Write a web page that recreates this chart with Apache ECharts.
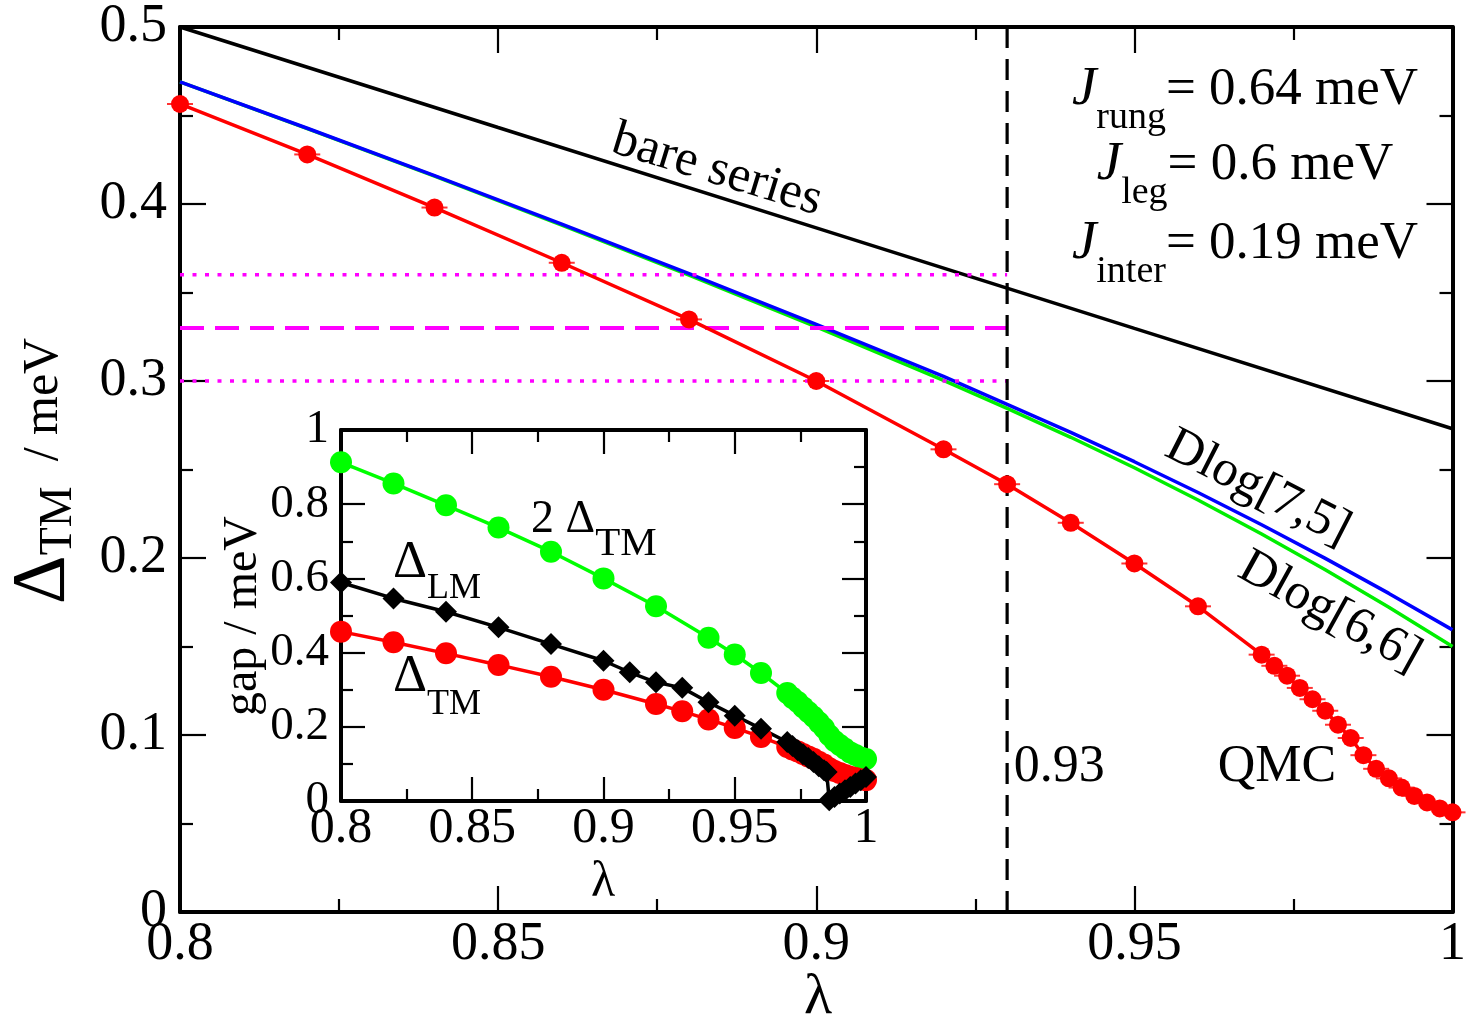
<!DOCTYPE html>
<html><head><meta charset="utf-8">
<script src="https://cdn.jsdelivr.net/npm/echarts@6/dist/echarts.min.js"></script>
<style>html,body{margin:0;padding:0;background:#fff}#c{width:1469px;height:1023px}</style>
</head><body><div id="c"></div>
<script>
const FONT = 'Liberation Serif';

// ---------- main panel data ----------
const mainXTicks = [0.8, 0.85, 0.9, 0.95, 1.0];
const mainYTicks = [0, 0.1, 0.2, 0.3, 0.4, 0.5];

// QMC  Delta_TM (red)
const qmcLambda = [0.80,0.82,0.84,0.86,0.88,0.90,0.92,0.93,0.94,0.95,0.96,
  0.970,0.972,0.974,0.976,0.978,0.980,0.982,0.984,0.986,0.988,0.990,0.992,0.994,0.996,0.998,1.000];
const qmcGap = [0.4565,0.4280,0.3980,0.3668,0.3348,0.3000,0.2614,0.2417,0.2199,0.1969,0.1727,
  0.1454,0.1391,0.1335,0.1266,0.1202,0.1137,0.1058,0.0983,0.0886,0.0809,0.0755,0.0703,0.0656,0.0619,0.0585,0.0563];

// bare series (black)
const bareLambda = [0.80, 0.85, 0.90, 0.95, 1.00];
const bareGap = [0.500, 0.4432, 0.3865, 0.3297, 0.2730];

// Dlog approximants
const dlogLambda = [0.80,0.82,0.84,0.86,0.88,0.90,0.92,0.93,0.94,0.95,0.96,0.97,0.98,0.99,1.00];
const dlog75 = [0.469,0.4428,0.4160,0.3886,0.3606,0.3320,0.3026,0.2868,0.2710,0.2544,0.2370,0.2188,0.1998,0.1800,0.1594];
const dlog66 = [0.469,0.4426,0.4157,0.3881,0.3598,0.3306,0.3003,0.2845,0.2682,0.2510,0.2328,0.2136,0.1934,0.1722,0.1500];

// reference levels
const refDotted = [0.30, 0.36];
const refDashed = [0.33];
const lambdaMark = 0.93;

// ---------- inset data ----------
const insetXTicks = [0.8, 0.85, 0.9, 0.95, 1.0];
const insetYTicks = [0, 0.2, 0.4, 0.6, 0.8, 1.0];

const twoTmLambda = [0.80,0.82,0.84,0.86,0.88,0.90,0.92,0.94,0.95,0.96,
  0.970,0.972,0.974,0.976,0.978,0.980,0.982,0.984,0.986,0.988,0.990,0.992,0.994,0.996,0.998,1.000];
const twoTmGap = [0.913,0.856,0.797,0.737,0.672,0.600,0.525,0.440,0.395,0.345,
  0.291,0.278,0.267,0.253,0.240,0.227,0.212,0.197,0.177,0.162,0.151,0.141,0.131,0.124,0.117,0.113];

const lmLambda = [0.80,0.82,0.84,0.86,0.88,0.90,0.91,0.92,0.93,0.94,0.95,0.96,
  0.970,0.972,0.974,0.976,0.978,0.980,0.982,0.984,0.985,0.986,0.988,0.990,0.992,0.994,0.996,0.998,1.000];
const lmGap = [0.589,0.546,0.510,0.468,0.423,0.378,0.347,0.320,0.305,0.266,0.230,0.195,
  0.159,0.148,0.137,0.126,0.116,0.105,0.094,0.083,0.078,0.002,0.011,0.020,0.029,0.038,0.047,0.056,0.065];

// ---------- helpers ----------
const zip = (xs, ys) => xs.map((x, i) => [x, ys[i]]);
const step = t => +(t[1] - t[0]).toFixed(6);

function valAxis(ticks, o) {
  return Object.assign({
    type: 'value', min: ticks[0], max: ticks[ticks.length - 1], interval: step(ticks),
    axisLine: { show: true, onZero: false, lineStyle: { color: '#000', width: 4 } },
    axisTick: { show: true, inside: true, length: 26, lineStyle: { color: '#000', width: 2.2 } },
    minorTick: { show: true, splitNumber: 2, length: 13, lineStyle: { color: '#000', width: 2.2 } },
    splitLine: { show: false },
    axisLabel: { show: true, color: '#000', fontFamily: FONT, fontSize: 54, margin: 8 }
  }, o);
}
function hideLabels(a) { a.axisLabel = Object.assign({}, a.axisLabel, { show: false }); return a; }
const subPad = (p) => [p, 0, 0, 0];

const chart = echarts.init(document.getElementById('c'), null, { renderer: 'canvas' });

const mainX = valAxis(mainXTicks, { gridIndex: 0, position: 'bottom' });
mainX.axisLabel.margin = 6;
const mainXTop = hideLabels(valAxis(mainXTicks, { gridIndex: 0, position: 'top' }));
const mainY = valAxis(mainYTicks, { gridIndex: 0, position: 'left' });
mainY.axisLabel.margin = 13;
const mainYRight = hideLabels(valAxis(mainYTicks, { gridIndex: 0, position: 'right' }));

const insX = valAxis(insetXTicks, { gridIndex: 1, position: 'bottom' });
insX.axisLabel.fontSize = 50; insX.axisLabel.margin = 3;
insX.axisTick.length = 24; insX.minorTick.length = 12;
const insXTop = hideLabels(valAxis(insetXTicks, { gridIndex: 1, position: 'top' }));
insXTop.axisTick.length = 24; insXTop.minorTick.length = 12;
const insY = valAxis(insetYTicks, { gridIndex: 1, position: 'left' });
insY.axisLabel.fontSize = 47; insY.axisLabel.margin = 12;
insY.axisTick.length = 24; insY.minorTick.length = 12;
const insYRight = hideLabels(valAxis(insetYTicks, { gridIndex: 1, position: 'right' }));
insYRight.axisTick.length = 24; insYRight.minorTick.length = 12;

function lineSeries(xi, yi, data, color, o) {
  return Object.assign({
    type: 'line', xAxisIndex: xi, yAxisIndex: yi, data: data, clip: false,
    showSymbol: false, symbol: 'none', smooth: false, silent: true,
    lineStyle: { color: color, width: 3.5 }, itemStyle: { color: color }
  }, o);
}

const series = [
  lineSeries(0, 0, zip(bareLambda, bareGap), '#000'),
  lineSeries(0, 0, zip(dlogLambda, dlog66), '#00ee00'),
  lineSeries(0, 0, zip(dlogLambda, dlog75), '#0000ff'),
];
refDotted.forEach(v => series.push(lineSeries(0, 0, [[mainXTicks[0], v], [lambdaMark, v]], '#ff00ff',
  { lineStyle: { color: '#ff00ff', width: 3.5, type: [4, 8.5] } })));
refDashed.forEach(v => series.push(lineSeries(0, 0, [[mainXTicks[0], v], [lambdaMark, v]], '#ff00ff',
  { lineStyle: { color: '#ff00ff', width: 4, type: [24, 11] } })));
series.push(lineSeries(0, 0, [[lambdaMark, mainYTicks[0]], [lambdaMark, mainYTicks[mainYTicks.length - 1]]], '#000',
  { lineStyle: { color: '#000', width: 3.2, type: [21, 11] } }));
// QMC error-bar caps + points
series.push({ type: 'scatter', xAxisIndex: 0, yAxisIndex: 0, data: zip(qmcLambda, qmcGap), clip: false, silent: true,
  symbol: 'rect', symbolSize: [26, 2], itemStyle: { color: '#ff0000' } });
series.push(lineSeries(0, 0, zip(qmcLambda, qmcGap), '#ff0000',
  { showSymbol: true, symbol: 'circle', symbolSize: 18, itemStyle: { color: '#ff0000', borderWidth: 0 } }));

// inset
series.push(lineSeries(2, 2, zip(twoTmLambda, twoTmGap), '#00ff00',
  { showSymbol: true, symbol: 'circle', symbolSize: 22, itemStyle: { color: '#00ff00', borderWidth: 0 } }));
series.push(lineSeries(2, 2, zip(qmcLambda, qmcGap), '#ff0000',
  { showSymbol: true, symbol: 'circle', symbolSize: 22, itemStyle: { color: '#ff0000', borderWidth: 0 } }));
series.push(lineSeries(2, 2, zip(lmLambda, lmGap), '#000',
  { showSymbol: true, symbol: 'diamond', symbolSize: 22, itemStyle: { color: '#000', borderWidth: 0 } }));

const option = {
  backgroundColor: '#fff',
  animation: false,
  grid: [
    { left: 180, right: 14, top: 20, bottom: 111, containLabel: false },
    { left: 341, right: 603, top: 430, bottom: 222, containLabel: false, show: true, backgroundColor: '#fff', borderWidth: 0 }
  ],
  xAxis: [mainX, mainXTop, insX, insXTop],
  yAxis: [mainY, mainYRight, insY, insYRight],
  series: series
};
chart.setOption(option);

// ---------- text annotations (placed in data coordinates) ----------
const toMain = (x, y) => chart.convertToPixel({ xAxisIndex: 0, yAxisIndex: 0 }, [x, y]);
const toInset = (x, y) => chart.convertToPixel({ xAxisIndex: 2, yAxisIndex: 2 }, [x, y]);
const deg = d => d * Math.PI / 180;

function plainText(p, text, size, rotDeg, align) {
  return { type: 'text', x: p[0], y: p[1], rotation: deg(rotDeg || 0), z: 20,
    style: { text: text, fontFamily: FONT, fontSize: size, fill: '#000', align: align || 'center', verticalAlign: 'middle' } };
}
function subText(p, main, sub, mainSize, subSize, pad) {
  return { type: 'text', x: p[0], y: p[1], z: 20,
    style: {
      text: '{m|' + main + '}{s|' + sub + '}', align: 'left', verticalAlign: 'middle',
      rich: {
        m: { fontFamily: FONT, fontSize: mainSize, fill: '#000' },
        s: { fontFamily: FONT, fontSize: subSize, fill: '#000', padding: subPad(pad) }
      }
    } };
}
function jLine(y, sub, rest) {
  return {
    type: 'text', x: 1245, y: y, z: 20,
    style: {
      text: '{j|J}{s|' + sub + '}{m|' + rest + '}',
      align: 'center', verticalAlign: 'middle',
      rich: {
        j: { fontFamily: FONT, fontSize: 55, fontStyle: 'italic', fill: '#000' },
        s: { fontFamily: FONT, fontSize: 38, fill: '#000', padding: subPad(56) },
        m: { fontFamily: FONT, fontSize: 53, fill: '#000' }
      }
    }
  };
}

const graphics = [
  plainText(toMain(0.8844, 0.419), 'bare series', 51, -17),
  plainText(toMain(0.9694, 0.2395), 'Dlog[7,5]', 51, -27),
  plainText(toMain(0.9807, 0.1694), 'Dlog[6,6]', 51, -29),
  plainText(toMain(0.9382, 0.0815), '0.93', 52, 0),
  plainText(toMain(0.9724, 0.0815), 'QMC', 52, 0),
  subText(toInset(0.8724, 0.758), '2 Δ', 'TM', 46, 41, 48),
  subText(toInset(0.8198, 0.640), 'Δ', 'LM', 53, 36, 50),
  subText(toInset(0.8198, 0.333), 'Δ', 'TM', 53, 36, 54),
  jLine(90, 'rung', '= 0.64 meV'),
  jLine(165, 'leg', '= 0.6 meV'),
  jLine(244, 'inter', '= 0.19 meV'),
  // axis titles
  plainText([818, 998], 'λ', 58, 0),
  plainText([603, 883], 'λ', 50, 0),
  plainText([243, 616], 'gap / meV', 48, 90),
  { type: 'text', x: 44, y: 471, rotation: Math.PI / 2, z: 20,
    style: {
      text: '{d|Δ}{s|TM}{m|  / meV}', align: 'center', verticalAlign: 'middle',
      rich: {
        d: { fontFamily: FONT, fontSize: 76, fill: '#000' },
        s: { fontFamily: FONT, fontSize: 46, fill: '#000', padding: subPad(30) },
        m: { fontFamily: FONT, fontSize: 50, fill: '#000' }
      }
    } }
];
chart.setOption({ graphic: graphics });
</script>
</body></html>
